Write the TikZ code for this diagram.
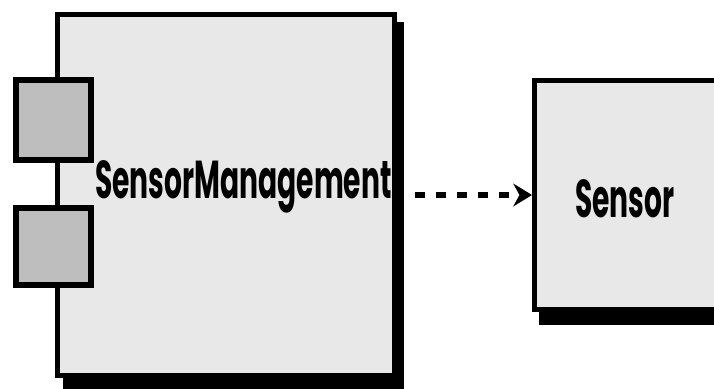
\documentclass[tikz,border=0pt]{standalone}
\usepackage{fontspec}
\newfontfamily\compfont{Poppins}
\usetikzlibrary{arrows.meta,fit}
\definecolor{compgray}{RGB}{232,232,232}
\definecolor{portgray}{RGB}{190,190,190}

\begin{document}
\begin{tikzpicture}[x=0.75pt,y=0.75pt,yscale=-1,xscale=1,
		compbox/.style={draw=black, fill=compgray, line width=4pt, inner sep=0pt},
		portbox/.style={draw=black, fill=portgray, line width=4.25pt, inner sep=0pt},
		compname/.style={font=\compfont\bfseries\fontsize{32}{38}\selectfont, inner sep=0pt, anchor=base west, yscale=1.25},
		dep/.style={line width=5pt, dash pattern=on 7.5pt off 8.25pt, -{Stealth[length=14pt,width=17pt]}}]
		\useasboundingbox (0,0) rectangle (714,389);
		
		%Shape: Shadow of SensorManagement
		\fill [black] (63,22) rectangle (404,389);
		%Shape: Shadow of Sensor
		\fill [black] (539,88) rectangle (740,325);
		
		%Shape: Component SensorManagement
		\node [compbox, fit={(57.7,14.7) (394.3,375.3)}] (mgmt) {};
		%Shape: Ports
		\node [portbox, fit={(15.8,79.8) (91.2,160.2)}] (porttop) {};
		\node [portbox, fit={(15.8,207.8) (91.2,285.2)}] (portbottom) {};
		%Shape: Component Sensor
		\node [compbox, fit={(534.7,80.7) (737.3,309.3)}] (sensor) {};
		
		% Text Node
		\node [compname, xscale=0.66] (mgmtname) at (95,198) {SensorManagement};
		% Text Node
		\node [compname, xscale=0.66] (sensorname) at (575,217) {Sensor};
		
		%Straight Lines: dependency
		\draw [dep, shorten <=13.5pt] (mgmt.east) -- (sensor.west);
		
\end{tikzpicture}
\end{document}
